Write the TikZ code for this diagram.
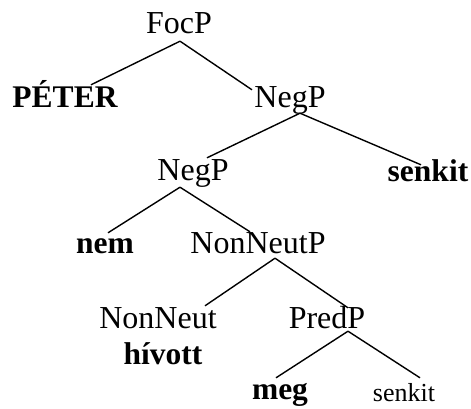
\documentclass[tikz,border=0pt]{standalone}
\usepackage{fontspec}
\setmainfont{Liberation Serif}

\begin{document}
\begin{tikzpicture}[x=1pt, y=-1pt,
    cat/.style={inner xsep=0pt, inner ysep=2pt, text height=21pt, text depth=6pt, anchor=base, font=\fontsize{32}{38}\selectfont},
    word/.style={cat, font=\fontsize{31.5}{38}\selectfont\bfseries},
    branch/.style={line width=1.4pt}]
          \useasboundingbox (0,0) rectangle (471,408);
          \node[cat](focp) at (179,33) {FocP};
          \node[word](peter) at (65,107) {PÉTER};
          \node[cat](negpa) at (290,107) {NegP};
          \node[cat](negpb) at (193,180) {NegP};
          \node[word](senkitb) at (428,181.5) {senkit};
          \node[word](nem) at (105,253) {nem};
          \node[cat](nonneutp) at (258,253) {NonNeutP};
          \node[cat](nonneut) at (158,328) {NonNeut};
          \node[word](hivott) at (163,364) {hívott};
          \node[cat](predp) at (327,328) {PredP};
          \node[word](meg) at (280,399) {meg};
          \node[cat, font=\fontsize{26}{31}\selectfont](senkits) at (404,401.5) {senkit};
          \path[branch]([xshift=1pt]focp.south) edge ([xshift=26pt,yshift=-1pt]peter.north)
            edge ([xshift=-38pt,yshift=-6pt]negpa.north);
          \path[branch]([xshift=10pt,yshift=2pt]negpa.south) edge ([xshift=14pt,yshift=-1pt]negpb.north)
            edge ([xshift=-7pt,yshift=-6.5pt]senkitb.north);
          \path[branch]([xshift=-13pt,yshift=1pt]negpb.south) edge ([xshift=3pt,yshift=-3pt]nem.north)
            edge ([xshift=-8pt,yshift=-2pt]nonneutp.north);
          \path[branch]([xshift=17pt,yshift=3pt]nonneutp.south) edge ([xshift=47pt,yshift=-1pt]nonneut.north)
            edge ([xshift=21pt,yshift=-3pt]predp.north);
          \path[branch]([xshift=21pt,yshift=5pt]predp.south) edge ([xshift=-4pt,yshift=-2pt]meg.north)
            edge ([xshift=16pt,yshift=0.5pt]senkits.north);
        \end{tikzpicture}
\end{document}
